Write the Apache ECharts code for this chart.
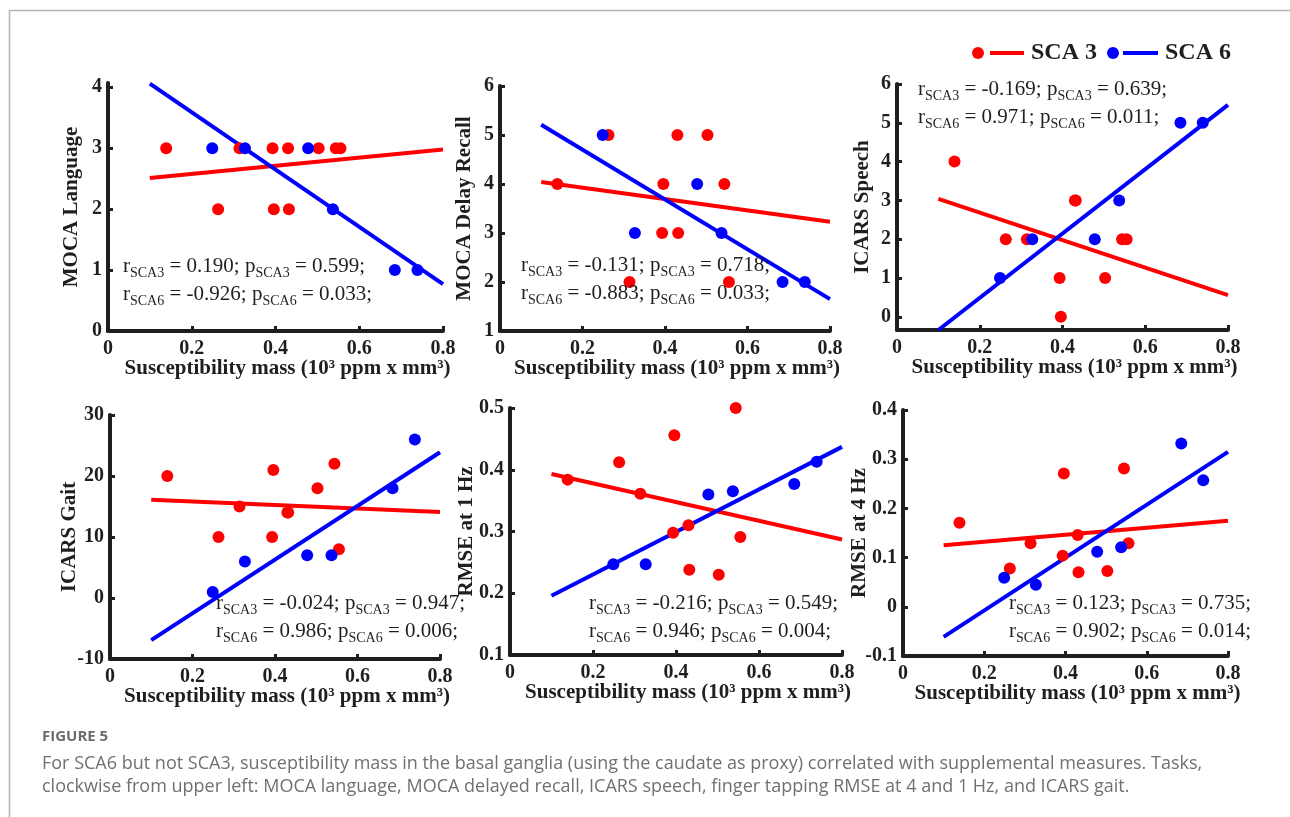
<!DOCTYPE html>
<html>
<head>
<meta charset="utf-8">
<title>Figure 5</title>
<script src="https://cdn.jsdelivr.net/npm/echarts@6/dist/echarts.min.js"></script>
<style>
  * { box-sizing: border-box; margin: 0; padding: 0; }
  html, body { width: 1290px; height: 817px; background: #fff; overflow: hidden; }
  #chart { width: 1290px; height: 817px; }
</style>
</head>
<body>
<div id="chart"></div>
<script>
// susceptibility mass per subject (same subjects in every panel)
const sca3X = [0.139, 0.263, 0.314, 0.393, 0.396, 0.430, 0.432, 0.503, 0.544, 0.555];
const sca6X = [0.249, 0.327, 0.478, 0.537, 0.685, 0.739];

// task scores, in the order of the x arrays above
const langSca3 = [3, 2, 3, 3, 2, 3, 2, 3, 3, 3];
const langSca6 = [3, 3, 3, 2, 1, 1];
const recallSca3 = [4, 5, 2, 3, 4, 5, 3, 5, 4, 2];
const recallSca6 = [5, 3, 4, 3, 2, 2];
const speechSca3 = [4, 2, 2, 1, 0, 3, 3, 1, 2, 2];
const speechSca6 = [1, 2, 2, 3, 5, 5];
const gaitSca3 = [20, 10, 15, 10, 21, 14, 14, 18, 22, 8];
const gaitSca6 = [1, 6, 7, 7, 18, 26];
const rmse1Sca3 = [0.384, 0.412, 0.361, 0.298, 0.456, 0.310, 0.238, 0.230, 0.500, 0.291];
const rmse1Sca6 = [0.247, 0.247, 0.360, 0.365, 0.377, 0.413];
const rmse4Sca3 = [0.171, 0.078, 0.129, 0.104, 0.271, 0.146, 0.070, 0.073, 0.281, 0.129];
const rmse4Sca6 = [0.059, 0.045, 0.112, 0.121, 0.332, 0.257];

// fitted lines: value at x = 0.1 and at x = 0.8
const fitX = [0.1, 0.8];
const langFit3 = [2.51, 2.98];
const langFit6 = [4.06, 0.77];
const recallFit3 = [4.04, 3.23];
const recallFit6 = [5.21, 1.65];
const speechFit3 = [3.04, 0.56];
const speechFit6 = [-0.34, 5.46];
const gaitFit3 = [16.1, 14.1];
const gaitFit6 = [-6.9, 23.9];
const rmse1Fit3 = [0.393, 0.287];
const rmse1Fit6 = [0.196, 0.437];
const rmse4Fit3 = [0.125, 0.175];
const rmse4Fit6 = [-0.061, 0.315];

// tick labels
const xTicks = [0, 0.2, 0.4, 0.6, 0.8];
const langTicks = [0, 1, 2, 3, 4];
const recallTicks = [1, 2, 3, 4, 5, 6];
const speechTicks = [0, 1, 2, 3, 4, 5, 6];
const gaitTicks = [-10, 0, 10, 20, 30];
const rmse1Ticks = [0.1, 0.2, 0.3, 0.4, 0.5];
const rmse4Ticks = [-0.1, 0, 0.1, 0.2, 0.3, 0.4];

// correlation statistics
const stats = [
  ['0.190', '0.599', '-0.926', '0.033'],
  ['-0.131', '0.718', '-0.883', '0.033'],
  ['-0.169', '0.639', '0.971', '0.011'],
  ['-0.024', '0.947', '0.986', '0.006'],
  ['-0.216', '0.549', '0.946', '0.004'],
  ['0.123', '0.735', '0.902', '0.014']
];

const RED = '#ff0000';
const BLUE = '#0000ff';
const INK = '#1f1f1f';
const SERIF = '"Liberation Serif", "Times New Roman", serif';

const panels = [
  { name: 'MOCA Language', s3: langSca3, s6: langSca6, f3: langFit3, f6: langFit6, ticks: langTicks, min: 0, max: 4.07,
    box: [108, 83, 335, 248], nameGap: 26, text: [123, 256] },
  { name: 'MOCA Delay Recall', s3: recallSca3, s6: recallSca6, f3: recallFit3, f6: recallFit6, ticks: recallTicks, min: 1, max: 6,
    box: [500, 86, 330, 245], nameGap: 25, text: [521, 255] },
  { name: 'ICARS Speech', s3: speechSca3, s6: speechSca6, f3: speechFit3, f6: speechFit6, ticks: speechTicks, min: -0.34, max: 6,
    box: [897, 84, 331, 246], nameGap: 24, text: [918, 79] },
  { name: 'ICARS Gait', s3: gaitSca3, s6: gaitSca6, f3: gaitFit3, f6: gaitFit6, ticks: gaitTicks, min: -10, max: 30,
    box: [110, 415, 330, 244], nameGap: 30, text: [216, 593] },
  { name: 'RMSE at 1 Hz', s3: rmse1Sca3, s6: rmse1Sca6, f3: rmse1Fit3, f6: rmse1Fit6, ticks: rmse1Ticks, min: 0.1, max: 0.5,
    box: [510, 408, 332, 247], nameGap: 33, text: [589, 593] },
  { name: 'RMSE at 4 Hz', s3: rmse4Sca3, s6: rmse4Sca6, f3: rmse4Fit3, f6: rmse4Fit6, ticks: rmse4Ticks, min: -0.1, max: 0.4,
    box: [903, 410, 325, 246], nameGap: 33, text: [1009, 593] }
];

function pairs(xs, ys) {
  return xs.map(function (x, i) { return [x, ys[i]]; });
}

function statText(s) {
  return '{t|r}{s|SCA3}{t| = ' + s[0] + '; p}{s|SCA3}{t| = ' + s[1] + ';}\n' +
         '{t|r}{s|SCA6}{t| = ' + s[2] + '; p}{s|SCA6}{t| = ' + s[3] + ';}';
}

const grid = [], xAxis = [], yAxis = [], series = [], graphic = [];

panels.forEach(function (p, i) {
  grid.push({ left: p.box[0], top: p.box[1], width: p.box[2], height: p.box[3] });
  xAxis.push({
    gridIndex: i, type: 'value', min: 0, max: 0.8,
    name: 'Susceptibility mass (10³ ppm x mm³)', nameLocation: 'middle', nameGap: 27, nameMoveOverlap: false,
    nameTextStyle: { fontFamily: SERIF, fontWeight: 'bold', fontSize: 21, color: INK, padding: [0, 0, 0, 24] },
    axisLine: { onZero: false, lineStyle: { color: INK, width: 4 } },
    axisTick: { inside: true, length: 5, customValues: xTicks, lineStyle: { color: INK, width: 3 } },
    axisLabel: { customValues: xTicks, margin: 8, fontFamily: SERIF, fontWeight: 'bold', fontSize: 20, color: INK },
    splitLine: { show: false }
  });
  yAxis.push({
    gridIndex: i, type: 'value', min: p.min, max: p.max,
    name: p.name, nameLocation: 'middle', nameGap: p.nameGap, nameMoveOverlap: false,
    nameTextStyle: { fontFamily: SERIF, fontWeight: 'bold', fontSize: 21, color: INK },
    axisLine: { onZero: false, lineStyle: { color: INK, width: 4 } },
    axisTick: { inside: true, length: 5, customValues: p.ticks, lineStyle: { color: INK, width: 3 } },
    axisLabel: { customValues: p.ticks, margin: 6, fontFamily: SERIF, fontWeight: 'bold', fontSize: 20, color: INK },
    splitLine: { show: false }
  });
  series.push(
    { type: 'line', xAxisIndex: i, yAxisIndex: i, data: pairs(fitX, p.f3), showSymbol: false, silent: true,
      lineStyle: { color: RED, width: 4 }, z: 2 },
    { type: 'line', xAxisIndex: i, yAxisIndex: i, data: pairs(fitX, p.f6), showSymbol: false, silent: true,
      lineStyle: { color: BLUE, width: 4 }, z: 2 },
    { type: 'scatter', xAxisIndex: i, yAxisIndex: i, data: pairs(sca3X, p.s3), symbolSize: 12,
      itemStyle: { color: RED, opacity: 1 }, z: 3 },
    { type: 'scatter', xAxisIndex: i, yAxisIndex: i, data: pairs(sca6X, p.s6), symbolSize: 12,
      itemStyle: { color: BLUE, opacity: 1 }, z: 3 }
  );
  graphic.push({
    type: 'text', left: p.text[0], top: p.text[1], z: 10,
    style: {
      text: statText(stats[i]),
      rich: {
        t: { fontFamily: SERIF, fontSize: 21, lineHeight: 28, fill: INK },
        s: { fontFamily: SERIF, fontSize: 14, lineHeight: 14, verticalAlign: 'bottom', fill: INK }
      }
    }
  });
});

// frame of the figure page
graphic.push({ type: 'polyline', z: 1, shape: { points: [[9.5, 817], [9.5, 10.5], [1290, 10.5]] },
  style: { stroke: '#b3b3b3', lineWidth: 1.5, fill: null } });

// legend
graphic.push(
  { type: 'circle', shape: { cx: 978, cy: 53, r: 6 }, style: { fill: RED } },
  { type: 'line', shape: { x1: 990, y1: 53, x2: 1024, y2: 53 }, style: { stroke: RED, lineWidth: 4 } },
  { type: 'text', x: 1031, y: 53, style: { text: 'SCA 3', fontFamily: SERIF, fontWeight: 'bold', fontSize: 24,
      fill: INK, verticalAlign: 'middle' } },
  { type: 'circle', shape: { cx: 1113, cy: 53, r: 6 }, style: { fill: BLUE } },
  { type: 'line', shape: { x1: 1123, y1: 53, x2: 1158, y2: 53 }, style: { stroke: BLUE, lineWidth: 4 } },
  { type: 'text', x: 1165, y: 53, style: { text: 'SCA 6', fontFamily: SERIF, fontWeight: 'bold', fontSize: 24,
      fill: INK, verticalAlign: 'middle' } }
);

// caption
graphic.push(
  { type: 'text', x: 42, y: 737, style: { text: 'FIGURE 5', fontFamily: '"Open Sans"', fontWeight: 'bold', fontSize: 15,
      fill: '#6b6b6b', verticalAlign: 'middle' } },
  { type: 'text', x: 42, y: 752, style: {
      text: 'For SCA6 but not SCA3, susceptibility mass in the basal ganglia (using the caudate as proxy) correlated with supplemental measures. Tasks,\n' +
            'clockwise from upper left: MOCA language, MOCA delayed recall, ICARS speech, finger tapping RMSE at 4 and 1 Hz, and ICARS gait.',
      fontFamily: '"Open Sans"', fontSize: 18, lineHeight: 23, fill: '#707070' } }
);

const myChart = echarts.init(document.getElementById('chart'), null, { renderer: 'canvas' });
myChart.setOption({
  animation: false,
  backgroundColor: '#ffffff',
  grid: grid,
  xAxis: xAxis,
  yAxis: yAxis,
  series: series,
  graphic: graphic
});
</script>
</body>
</html>
